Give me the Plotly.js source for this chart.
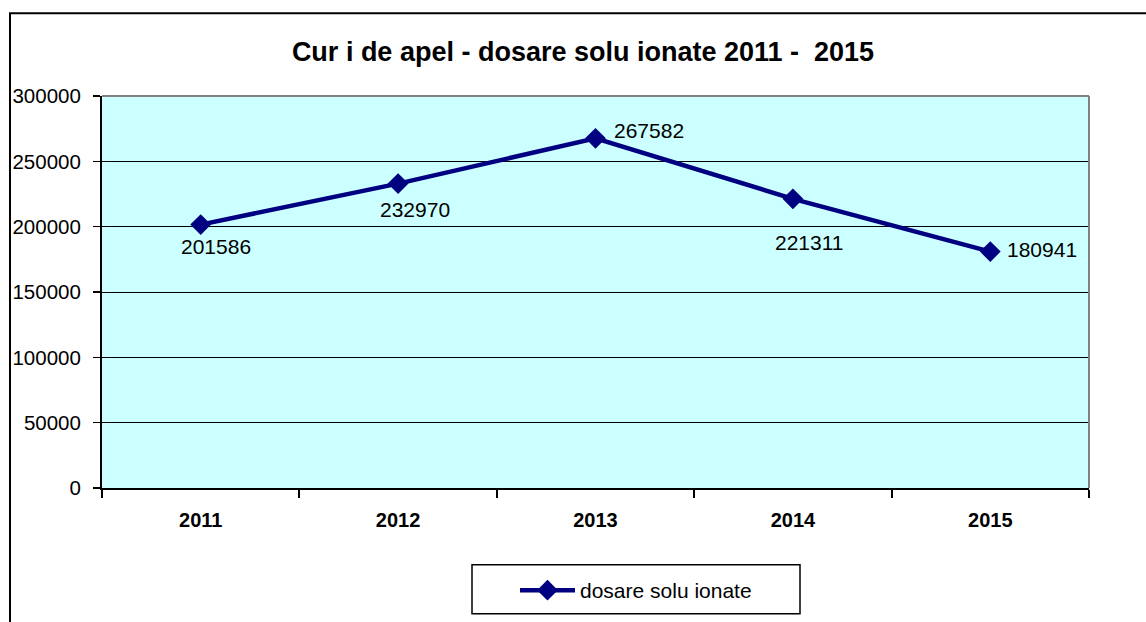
<!DOCTYPE html>
<html>
<head>
<meta charset="utf-8">
<script src="https://cdn.plot.ly/plotly-3.0.1.min.js"></script>
<style>html,body{margin:0;padding:0;background:#fff;}#chart{width:1146px;height:622px;}</style>
</head>
<body>
<div id="chart"></div>
<script>
var categories = ['2011', '2012', '2013', '2014', '2015'];
var values = [201586, 232970, 267582, 221311, 180941];
var seriesName = 'dosare solu ionate';
var chartTitle = 'Cur i de apel - dosare solu ionate 2011 -\u00a0 2015';
var yTicks = [0, 50000, 100000, 150000, 200000, 250000, 300000];

var labelShift = [[15, -22], [17, -26], [53, 8], [17, -44], [52, 2]];

var FONT = 'Liberation Sans, Arial, sans-serif';

var trace = {
  type: 'scatter',
  mode: 'lines+markers',
  x: categories,
  y: values,
  name: seriesName,
  line: {color: '#000080', width: 4.5},
  marker: {symbol: 'diamond', size: 16, color: '#000080'},
  hoverinfo: 'none'
};

var annotations = categories.map(function (c, i) {
  return {
    x: i, y: values[i], xref: 'x', yref: 'y',
    text: String(values[i]), showarrow: false,
    xanchor: 'center', yanchor: 'middle',
    xshift: labelShift[i][0], yshift: labelShift[i][1],
    font: {family: FONT, size: 21, color: '#000'}
  };
});

var pl = 102, pr = 1089, pt = 96, pb = 489;
function px(x) { return (x - pl) / (pr - pl); }
function py(y) { return (pb - y) / (pb - pt); }

var shapes = [
  {type: 'line', xref: 'paper', yref: 'paper', x0: 0, x1: 1, y0: 1, y1: 1, line: {color: '#808080', width: 2}},
  {type: 'line', xref: 'paper', yref: 'paper', x0: 1, x1: 1, y0: 0, y1: 1, line: {color: '#808080', width: 2}},
  {type: 'rect', xref: 'paper', yref: 'paper', x0: px(10), x1: px(1300), y0: py(800), y1: py(13), line: {color: '#000', width: 2}, fillcolor: 'rgba(0,0,0,0)'},
  {type: 'rect', xref: 'paper', yref: 'paper', x0: px(472), x1: px(800), y0: py(615), y1: py(566), line: {color: '#000', width: 1.5}, fillcolor: '#fff'}
];

var layout = {
  width: 1146, height: 622,
  margin: {l: pl, r: 1146 - pr, t: pt, b: 622 - pb, pad: 0},
  paper_bgcolor: '#fff',
  plot_bgcolor: '#CCFFFF',
  font: {family: FONT, color: '#000'},
  title: {
    text: '<b>' + chartTitle + '</b>',
    font: {family: FONT, size: 27, color: '#000'},
    xref: 'container', x: 583 / 1146, xanchor: 'center',
    yref: 'container', y: 1 - 52 / 622, yanchor: 'middle'
  },
  xaxis: {
    type: 'category',
    categoryorder: 'array', categoryarray: categories,
    range: [-0.5, categories.length - 0.5],
    showline: true, linecolor: '#000', linewidth: 2,
    ticks: 'outside', tickson: 'boundaries', ticklen: 8, tickwidth: 2, tickcolor: '#000',
    showgrid: false, zeroline: false,
    tickfont: {family: FONT, size: 20, color: '#000', weight: 'bold'},
    ticklabelstandoff: 13,
    fixedrange: true
  },
  yaxis: {
    range: [0, 300000],
    tickvals: yTicks, ticktext: yTicks.map(String),
    showline: true, linecolor: '#000', linewidth: 2,
    ticks: 'outside', ticklen: 7, tickwidth: 1.5, tickcolor: '#000',
    showgrid: true, gridcolor: '#000', gridwidth: 1,
    zeroline: false,
    tickfont: {family: FONT, size: 20.5, color: '#000'},
    ticklabelstandoff: 8,
    fixedrange: true
  },
  showlegend: true,
  legend: {
    x: px(515), xanchor: 'left',
    y: py(590.5), yanchor: 'middle',
    itemwidth: 55,
    bgcolor: 'rgba(0,0,0,0)', borderwidth: 0,
    font: {family: FONT, size: 21, color: '#000'}
  },
  annotations: annotations,
  shapes: shapes
};

Plotly.newPlot('chart', [trace], layout, {displayModeBar: false, staticPlot: true});
</script>
</body>
</html>
